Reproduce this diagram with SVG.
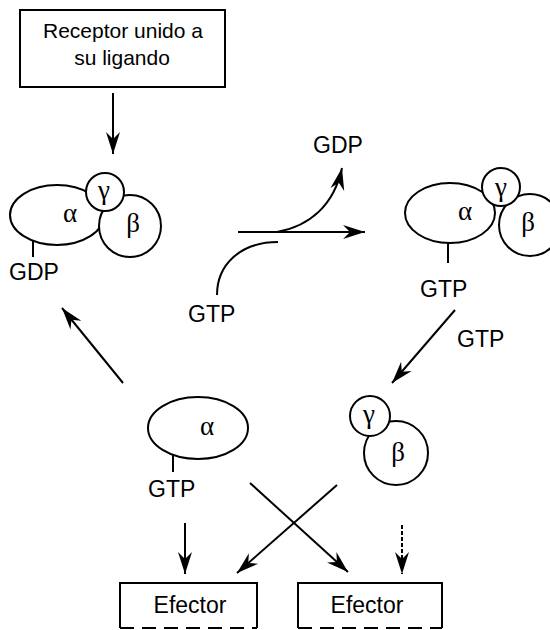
<svg xmlns="http://www.w3.org/2000/svg" width="550" height="630" viewBox="0 0 550 630">
<style>
.ln{fill:none;stroke:#000;stroke-width:2}
.sh{fill:#fff;stroke:#000;stroke-width:2}
.lb{font-family:"Liberation Sans",Arial,sans-serif;font-size:23px;fill:#000}
.rc{font-family:"Liberation Sans",Arial,sans-serif;font-size:21px;fill:#000;text-anchor:middle}
.gk{font-family:"Liberation Serif","Times New Roman",serif;font-size:27px;fill:#000;text-anchor:middle}
</style>
<defs>
<marker id="ah" markerUnits="userSpaceOnUse" markerWidth="26" markerHeight="18" viewBox="-24 -9 26 18" refX="0" refY="0" orient="auto">
<path d="M0,0 L-22,-7 L-15,0 L-22,7 Z" fill="#000"/>
</marker>
</defs>
<rect width="550" height="630" fill="#fff"/>

<g id="receptor">
<rect x="20" y="10" width="205" height="77" class="sh"/>
<text x="123" y="38" class="rc">Receptor unido a</text>
<text x="122" y="65" class="rc">su ligando</text>
</g>

<g id="complex-gdp">
<ellipse cx="57" cy="215" rx="47" ry="30" class="sh"/>
<circle cx="130" cy="226" r="31" class="sh"/>
<circle cx="105" cy="192" r="19" class="sh"/>
<text x="70" y="222" class="gk">α</text>
<text x="133" y="232" class="gk">β</text>
<text x="104" y="199" class="gk">γ</text>
<line x1="33" y1="241" x2="33" y2="257" class="ln"/>
<text x="9" y="280" class="lb">GDP</text>
</g>

<g id="complex-gtp">
<ellipse cx="450" cy="213" rx="45" ry="30" class="sh"/>
<circle cx="530" cy="225" r="31" class="sh"/>
<circle cx="501" cy="187" r="19" class="sh"/>
<text x="465" y="220" class="gk">α</text>
<text x="528" y="231" class="gk">β</text>
<text x="501" y="196" class="gk">γ</text>
<line x1="448" y1="243" x2="448" y2="263" class="ln"/>
<text x="420" y="297" class="lb">GTP</text>
</g>

<g id="alpha-gtp">
<ellipse cx="198" cy="428" rx="50" ry="31" class="sh"/>
<text x="207" y="435" class="gk">α</text>
<line x1="173" y1="455" x2="173" y2="472" class="ln"/>
<text x="148" y="497" class="lb">GTP</text>
</g>

<g id="beta-gamma">
<circle cx="396" cy="453" r="32" class="sh"/>
<circle cx="370" cy="416" r="20" class="sh"/>
<text x="398" y="461" class="gk">β</text>
<text x="369" y="423" class="gk">γ</text>
</g>

<g id="efector-1">
<path d="M120,628 V583 H257 V628" class="ln"/>
<line x1="120" y1="628" x2="257" y2="628" class="ln" stroke-dasharray="14,8"/>
<text x="190" y="613" class="lb" text-anchor="middle">Efector</text>
</g>

<g id="efector-2">
<path d="M298,628 V583 H442 V628" class="ln"/>
<line x1="298" y1="628" x2="442" y2="628" class="ln" stroke-dasharray="14,8"/>
<text x="367" y="613" class="lb" text-anchor="middle">Efector</text>
</g>

<g id="labels">
<text x="313" y="153" class="lb">GDP</text>
<text x="188" y="322" class="lb">GTP</text>
<text x="457" y="347" class="lb">GTP</text>
</g>

<g id="connectors">
<line x1="113" y1="93" x2="113" y2="154" class="ln" marker-end="url(#ah)"/>
<line x1="238" y1="232" x2="365" y2="232" class="ln" marker-end="url(#ah)"/>
<path d="M217,295 C217,265 240,242 278,242" class="ln"/>
<path d="M277,232 C310,226 334,205 342,168" class="ln" marker-end="url(#ah)"/>
<line x1="455" y1="310" x2="392" y2="383" class="ln" marker-end="url(#ah)"/>
<line x1="123" y1="383" x2="62" y2="308" class="ln" marker-end="url(#ah)"/>
<line x1="185" y1="523" x2="185" y2="574" class="ln" marker-end="url(#ah)"/>
<line x1="402" y1="525" x2="402" y2="574" class="ln" stroke-dasharray="4,2" stroke-width="1.5" marker-end="url(#ah)"/>
<line x1="250" y1="483" x2="348" y2="572" class="ln" marker-end="url(#ah)"/>
<line x1="337" y1="485" x2="237" y2="573" class="ln" marker-end="url(#ah)"/>
</g>
</svg>
